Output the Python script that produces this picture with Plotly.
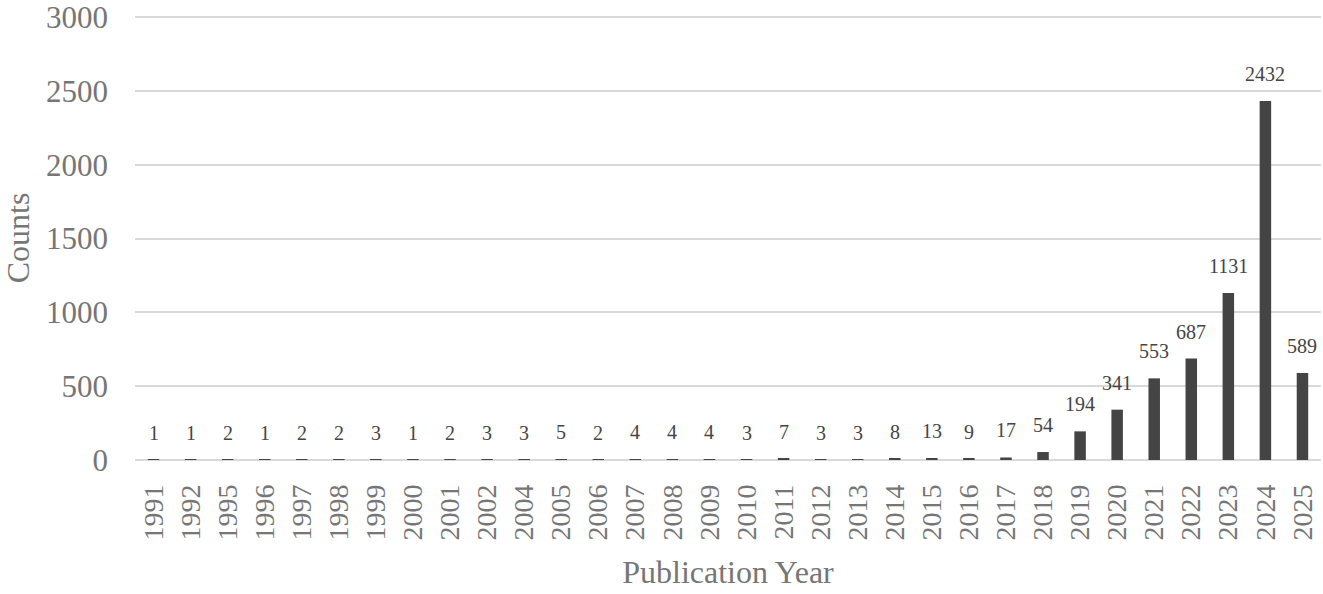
import plotly.graph_objects as go

years = ["1991", "1992", "1995", "1996", "1997", "1998", "1999", "2000",
         "2001", "2002", "2004", "2005", "2006", "2007", "2008", "2009",
         "2010", "2011", "2012", "2013", "2014", "2015", "2016", "2017",
         "2018", "2019", "2020", "2021", "2022", "2023", "2024", "2025"]
counts = [1, 1, 2, 1, 2, 2, 3, 1,
          2, 3, 3, 5, 2, 4, 4, 4,
          3, 7, 3, 3, 8, 13, 9, 17,
          54, 194, 341, 553, 687, 1131, 2432, 589]
y_ticks = [0, 500, 1000, 1500, 2000, 2500, 3000]

serif = "Liberation Serif, Times New Roman, serif"

fig = go.Figure(go.Bar(
    x=years,
    y=counts,
    marker=dict(color="#444444", line=dict(width=0)),
    hoverinfo="x+y",
))

# value labels sit a fixed distance above each bar top
# (category index used for x, year strings would be read as positions)
for i, c in enumerate(counts):
    fig.add_annotation(
        x=i, y=c, text=str(c), showarrow=False,
        yanchor="middle", yshift=27,
        font=dict(family=serif, size=20, color="#454545"),
    )

fig.update_layout(
    width=1323,
    height=594,
    margin=dict(l=135, r=2, t=16, b=134),
    plot_bgcolor="white",
    paper_bgcolor="white",
    bargap=0.69,
    showlegend=False,
    font=dict(family=serif, color="#767676"),
)
fig.update_xaxes(
    type="category",
    range=[-0.5, len(years) - 0.5],
    automargin=False,
    tickangle=-90,
    tickfont=dict(size=28, color="#767676"),
    ticklabelstandoff=18,
    showgrid=False,
    showline=False,
    title=dict(text="Publication Year", font=dict(size=32, color="#767676"),
               standoff=21),
)
fig.update_yaxes(
    range=[0, 3008],
    automargin=False,
    tickvals=y_ticks,
    tickfont=dict(size=31, color="#767676"),
    ticklabelstandoff=26,
    ticklabeloverflow="allow",
    showgrid=True,
    gridcolor="#d9d9d9",
    gridwidth=2,
    zeroline=True,
    zerolinecolor="#d9d9d9",
    zerolinewidth=2,
    showline=False,
    title=dict(text="Counts", font=dict(size=32, color="#767676"), standoff=7),
)

# drop the default 8px body margin so the figure fills the window
fig.write_html("out.html", config={"displayModeBar": False},
               post_script="document.body.style.margin = '0';")
